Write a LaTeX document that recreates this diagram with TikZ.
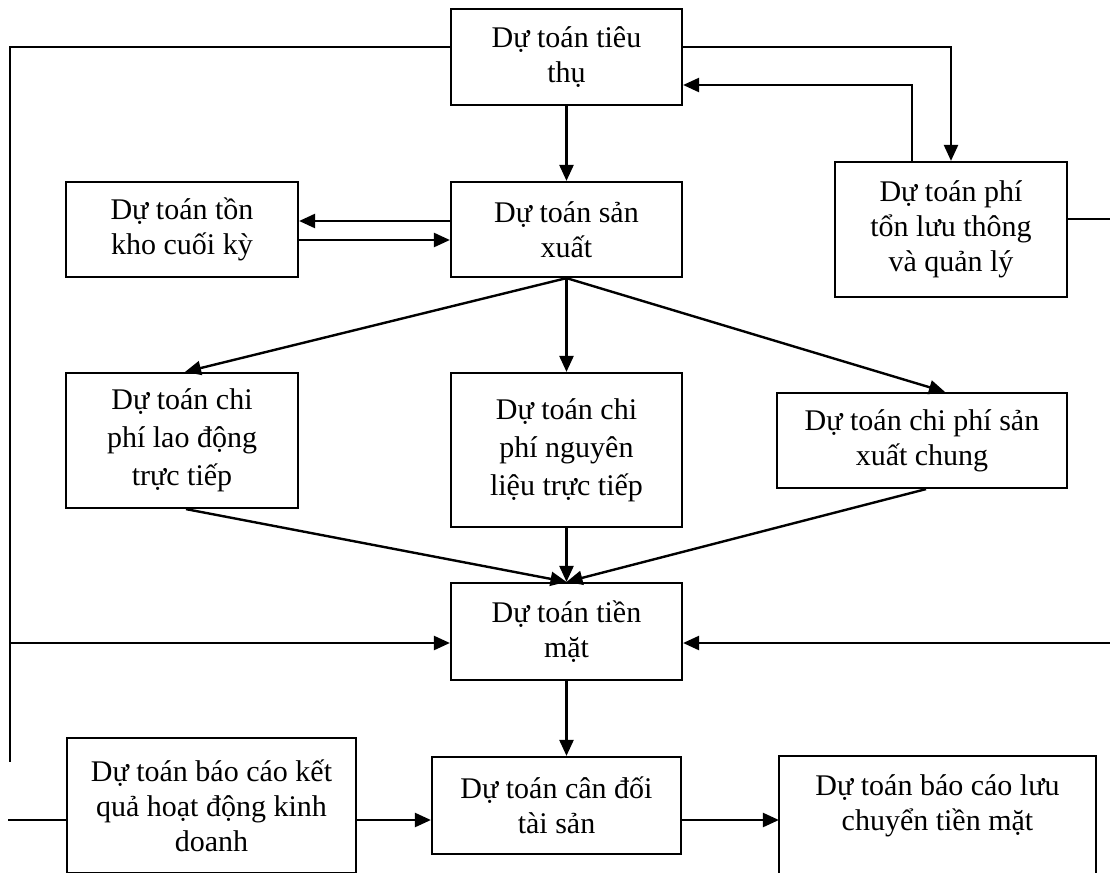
\documentclass[tikz,border=0pt]{standalone}
\usepackage{fontspec}
\setmainfont{Liberation Serif}
\usepackage{tikz}
\usetikzlibrary{positioning, arrows.meta}

\tikzset{
	block/.style = {draw, line width=1.1pt, align=center, inner sep=0pt, font=\fontsize{15}{17.5}\selectfont},
	wide/.style = {font=\fontsize{15}{19}\selectfont},
	line/.style = {draw, line width=1.2pt, -{Triangle[length=8pt,width=7pt]}},
	wire/.style = {draw, line width=1.2pt}
}

\begin{document}
\begin{tikzpicture}[x=0.5pt, y=-0.5pt, node distance = 1cm, auto]
			\useasboundingbox (0,0) rectangle (1110,873);
			\node [block, minimum width=115.5pt, minimum height=48pt] (sales) at (566.5,57) {Dự toán tiêu\\thụ};
			\node [block, minimum width=115.5pt, minimum height=47.5pt, below of = sales, node distance = 86.25pt] (production) {Dự toán sản\\xuất};
			\node [block, minimum width=116pt, minimum height=47.5pt, left of = production, node distance = 192.25pt] (inventory) {Dự toán tồn\\kho cuối kỳ};
			\node [block, minimum width=116pt, minimum height=67.5pt, right of = production, node distance = 192.25pt] (expenses) {Dự toán phí\\tổn lưu thông\\và quản lý};
			\node [block, wide, minimum width=115.5pt, minimum height=77pt, below of = production, node distance = 110.25pt] (material) {Dự toán chi\\phí nguyên\\liệu trực tiếp};
			\node [block, wide, minimum width=116pt, minimum height=67.5pt, below of = inventory, node distance = 105.5pt] (labour) {Dự toán chi\\phí lao động\\trực tiếp};
			\node [block, minimum width=145pt, minimum height=47.5pt] (overhead) at (922,440.5) {Dự toán chi phí sản\\xuất chung};
			\node [block, minimum width=115.5pt, minimum height=48.5pt, below of = material, node distance = 90.75pt] (cash) {Dự toán tiền\\mặt};
			\node [block, minimum width=144.5pt, minimum height=67.5pt] (income) at (211.5,805.5) {Dự toán báo cáo kết\\quả hoạt động kinh\\doanh};
			\node [block, minimum width=124.5pt, minimum height=48.5pt] (balance) at (556.5,805.5) {Dự toán cân đối\\tài sản};
			\node [block, draw=none, minimum width=157.5pt, minimum height=48.5pt] (cashflow) at (937.5,805.5) {Dự toán báo cáo lưu\\chuyển tiền mặt};
			% open box at the bottom edge
			\path [draw, line width=1.1pt] ([yshift=-20pt]cashflow.south west) |- (cashflow.north east) -- ([yshift=-20pt]cashflow.south east);

			\coordinate (westtop) at (10,47);
			\coordinate (westend) at (10,762);
			\coordinate (westcash) at (10,643);
			\coordinate (eastcash) at (1110,643);
			\coordinate (eastexp) at (1110,219);
			\coordinate (westincome) at (8,820);

			\path [wire] (sales.west |- westtop) -- (westtop) -- (westend);
			\path [line] (sales.east |- westtop) -| (expenses.north);
			\path [line] ([xshift=-19.5pt]expenses.north) |- ([yshift=-14pt]sales.east);
			\path [line] (sales) -- (production);
			\path [line] ([yshift=4.25pt]production.west) -- ([yshift=4.25pt]production.west -| inventory.east);
			\path [line] ([yshift=-5.25pt]inventory.east) -- ([yshift=-5.25pt]inventory.east -| production.west);
			\path [line] (production.south) -- ([xshift=1.5pt]labour.north);
			\path [line] (production) -- (material);
			\path [line] (production.south) -- ([xshift=11.5pt]overhead.north);
			\path [line] ([xshift=2pt]labour.south) -- (cash.north);
			\path [line] (material) -- (cash);
			\path [line] ([xshift=2pt]overhead.south) -- (cash.north);
			\path [line] (westcash) -- (westcash -| cash.west);
			\path [line] (eastcash) -- (eastcash -| cash.east);
			\path [wire] (expenses.east |- eastexp) -- (eastexp);
			\path [line] (cash) -- (cash.south |- balance.north);
			\path [wire] (westincome) -- (westincome -| income.west);
			\path [line] (income.east |- westincome) -- (balance.west |- westincome);
			\path [line] (balance.east |- westincome) -- (cashflow.west |- westincome);
		\end{tikzpicture}
\end{document}
